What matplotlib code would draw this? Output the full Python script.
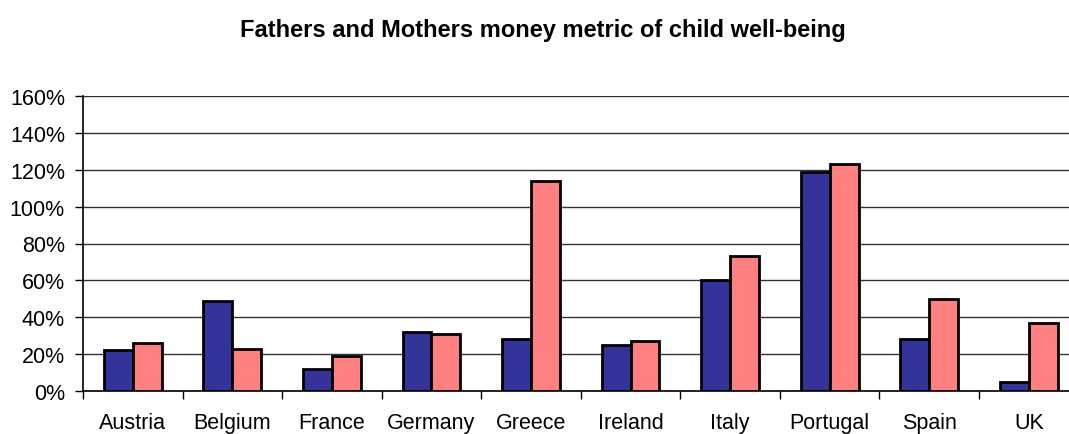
import matplotlib
matplotlib.use("Agg")
import matplotlib.pyplot as plt
import numpy as np
from matplotlib.ticker import FuncFormatter, MultipleLocator

categories = ["Austria", "Belgium", "France", "Germany", "Greece",
              "Ireland", "Italy", "Portugal", "Spain", "UK"]
fathers = [22, 49, 12, 32, 28, 25, 60, 119, 28, 5]
mothers = [26, 23, 19, 31, 114, 27, 73, 123, 50, 37]

plt.rcParams['font.family'] = ['Liberation Sans', 'DejaVu Sans']

W, H = 1069, 435
fig = plt.figure(figsize=(W / 100, H / 100), dpi=100)
left, right, top, bottom = 83, 1078.6, 97, 392
ax = fig.add_axes([left / W, (H - bottom) / H, (right - left) / W, (bottom - top) / H])

x = np.arange(len(categories))
bw = 0.29
ax.bar(x - bw / 2, fathers, bw, color="#333399", edgecolor="black", linewidth=2, zorder=3)
ax.bar(x + bw / 2, mothers, bw, color="#FF8080", edgecolor="black", linewidth=2, zorder=3)

ax.set_xlim(-0.5, len(categories) - 0.5)
ax.set_ylim(0, 160)
ax.yaxis.set_major_locator(MultipleLocator(20))
ax.yaxis.set_major_formatter(FuncFormatter(lambda v, p: f"{int(v)}%"))
ax.grid(axis='y', color="#333333", linewidth=1, zorder=0)

ax.set_xticks(x)
ax.set_xticklabels(categories, fontsize=15.5)
ax.tick_params(axis='x', length=0, pad=15)
ax.set_xticks(np.arange(len(categories) + 1) - 0.5, minor=True)
ax.tick_params(axis='x', which='minor', length=6, width=1, color='black')
ax.tick_params(axis='y', labelsize=15.5, length=6, width=1, direction='out', pad=7)

for s in ['top', 'right']:
    ax.spines[s].set_visible(False)
ax.spines['left'].set_linewidth(1.2)
ax.spines['bottom'].set_linewidth(1.2)

fig.text(543 / W, 1 - 30 / H, "Fathers and Mothers money metric of child well-being",
         ha='center', va='center', fontsize=17, fontweight='bold')

fig.savefig("out.png", dpi=100)
